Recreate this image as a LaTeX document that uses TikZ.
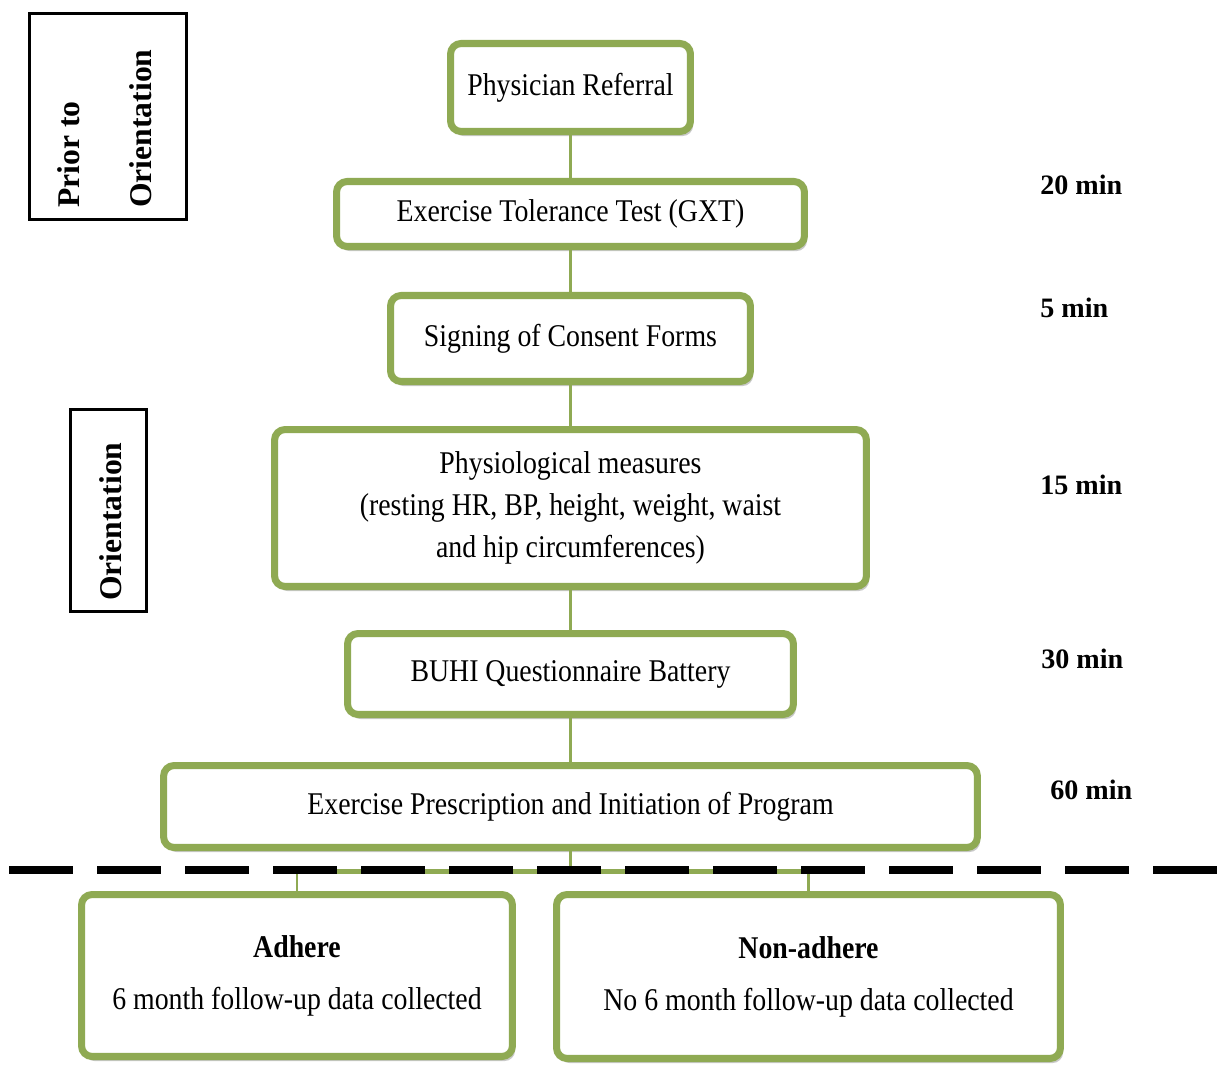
\documentclass[tikz,border=0pt]{standalone}
\usepackage{fontspec}
\setmainfont{Liberation Serif}[FakeStretch=0.88]
\newfontfamily\labelfont{Liberation Serif}
\usetikzlibrary{shadows}
\definecolor{stepgreen}{RGB}{143,170,83}

\begin{document}
\begin{tikzpicture}[x=0.02cm,y=-0.02cm,
  stepbox/.style={draw=stepgreen,line width=4pt,rounded corners=6pt,fill=white,align=center,inner sep=0pt,font=\fontsize{18}{24}\selectfont,drop shadow={shadow xshift=1.5pt,shadow yshift=-2.6pt,opacity=0.35,fill=black!60}},
  link/.style={draw=stepgreen,line width=1.7pt},
  bar/.style={draw=stepgreen,line width=2.8pt},
  cut/.style={draw=black,line width=4.5pt,dash pattern=on 36.4pt off 13.7pt},
  phasebox/.style={draw,line width=1.7pt,inner sep=0pt},
  phase/.style={rotate=90,align=left,anchor=south west,inner sep=0pt,font=\labelfont\bfseries\fontsize{18}{22}\selectfont},
  time/.style={anchor=west,inner sep=0pt,font=\labelfont\bfseries\fontsize{16}{19}\selectfont}]
  \useasboundingbox[fill=white] (0,0) rectangle (1218,1065);

  \node[stepbox,minimum width=4.8cm,minimum height=1.76cm]   (ref)  at (570.5,87.5)  {Physician Referral};
  \node[stepbox,minimum width=9.36cm,minimum height=1.3cm]   (gxt)  at (570.5,214)   {Exercise Tolerance Test (GXT)};
  \node[stepbox,minimum width=7.2cm,minimum height=1.72cm]   (cons) at (570.5,338.5) {Signing of Consent Forms};
  \node[stepbox,minimum width=11.84cm,minimum height=3.14cm] (phys) at (570.5,508)   {Physiological measures\\(resting HR, BP, height, weight, waist\\and hip circumferences)};
  \node[stepbox,minimum width=8.92cm,minimum height=1.62cm]  (buhi) at (570.5,674)   {BUHI Questionnaire Battery};
  \node[stepbox,minimum width=16.28cm,minimum height=1.64cm] (exr)  at (570.5,806.5) {Exercise Prescription and Initiation of Program};
  \node[stepbox,minimum width=8.62cm,minimum height=3.24cm]  (adh)  at (297,975.5)   {\textbf{Adhere}\\[5.6pt]6 month follow-up data collected};
  \node[stepbox,minimum width=10.08cm,minimum height=3.28cm] (non)  at (808.5,976.5) {\textbf{Non-adhere}\\[5.6pt]No 6 month follow-up data collected};

  \node[phasebox,minimum width=3.14cm,minimum height=4.12cm] (priorbox) at (108,116.5) {};
  \node[phase] (priortext) at (152,208) {Prior to\\[19pt]Orientation};
  \node[phasebox,minimum width=1.52cm,minimum height=4.04cm] (orientbox) at (108.5,510.5) {};
  \node[phase] (orienttext) at (122,601) {Orientation};

  \node[time] (t20) at (1040,185) {20 min};
  \node[time] (t5)  at (1040,308) {5 min};
  \node[time] (t15) at (1040,485) {15 min};
  \node[time] (t30) at (1041,659) {30 min};
  \node[time] (t60) at (1050,790) {60 min};

  \coordinate (split)  at (570.5,871.5);
  \coordinate (splitL) at (297,871.5);
  \coordinate (splitR) at (808.5,871.5);
  \coordinate (cutL)   at (9,870);
  \coordinate (cutR)   at (1218,870);

  \draw[link] (ref) -- (gxt);
  \draw[link] (gxt) -- (cons);
  \draw[link] (cons) -- (phys);
  \draw[link] (phys) -- (buhi);
  \draw[link] (buhi) -- (exr);
  \draw[link] (exr) -- (split);
  \draw[bar]  (splitL) -- (splitR);
  \draw[link] (splitL) -- (adh);
  \draw[link] (splitR) -- (non);
  \draw[cut]  (cutL) -- (cutR);
\end{tikzpicture}
\end{document}
